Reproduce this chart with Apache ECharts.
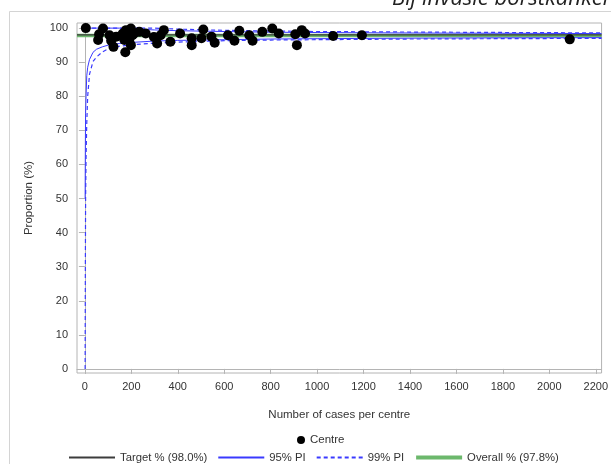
<!DOCTYPE html>
<html>
<head>
<meta charset="utf-8">
<script src="https://cdn.jsdelivr.net/npm/echarts@6/dist/echarts.min.js"></script>
<style>
  html, body { margin: 0; padding: 0; background: #fff; }
  #chart { width: 611px; height: 464px; }
</style>
</head>
<body>
<div id="chart"></div>
<script>
// Centres: number of cases and proportion (%)
const centreCases = [4, 57, 61, 78, 106, 113, 123, 135, 163, 170, 174, 177, 177, 184, 191, 198, 198, 205, 212, 234,
  262, 297, 311, 326, 340, 368, 410, 460, 460, 502, 510, 545, 559, 616, 644, 665, 708, 722, 764, 807,
  835, 906, 913, 934, 948, 1069, 1193, 2088];
const centrePct = [100, 96.5, 98.2, 99.9, 97.9, 96.3, 94.5, 97.5, 98.4, 96.5, 92.9, 99.4, 97.4, 98.4, 96.5, 99.9, 95.0, 97.9, 98.4, 98.9,
  98.4, 97.4, 95.5, 97.9, 99.4, 96.0, 98.4, 97.0, 95.0, 97.0, 99.6, 97.5, 95.7, 97.9, 96.3, 99.2, 97.9, 96.3, 98.9, 99.9,
  98.4, 98.2, 95.0, 99.4, 98.4, 97.7, 97.9, 96.7];

// Prediction-interval funnel limits
const limitCases = [1, 2, 3, 5, 8, 12, 20, 35, 50, 75, 100, 150, 200, 300, 400, 600, 800, 1000, 1400, 1800, 2225];
const lower95 = [50, 66, 75, 80, 86, 88.5, 90.8, 92.9, 93.8, 94.5, 95.0, 95.5, 95.8, 96.2, 96.4, 96.6, 96.8, 96.9, 97.05, 97.15, 97.2];
const upper95 = [100, 100, 100, 100, 100, 100, 100, 100, 100, 100, 100, 100, 99.8, 99.46, 99.24, 99.0, 98.8, 98.7, 98.57, 98.48, 98.4];
const lower99 = [0, 30, 50, 62, 72, 80, 86.5, 90.2, 91.5, 93.0, 93.9, 94.7, 95.1, 95.6, 95.9, 96.3, 96.5, 96.6, 96.8, 96.9, 97.0];
const upper99 = [100, 100, 100, 100, 100, 100, 100, 100, 100, 100, 100, 100, 100, 100, 99.7, 99.35, 99.15, 99.0, 98.85, 98.72, 98.6];

// Reference levels
const targetPct = 98.0;
const overallPct = 97.8;

// Axis ranges and tick labels
const xRange = [-34, 2225];
const yRange = [-1.2, 101.5];
const xTicks = [0, 200, 400, 600, 800, 1000, 1200, 1400, 1600, 1800, 2000, 2200];
const yTicks = [0, 10, 20, 30, 40, 50, 60, 70, 80, 90, 100];

const zip = (xs, ys) => xs.map((x, i) => [x, ys[i]]);
const flat = (v) => [[xRange[0], v], [xRange[1], v]];

const blue = '#3a3aff';
const green = '#6cb86c';
const dark = '#3c3c3c';
const axisGrey = '#b4b4b4';
const textCol = '#333';
const font = 'Liberation Sans, Arial, sans-serif';

const chart = echarts.init(document.getElementById('chart'), null, { renderer: 'canvas' });

chart.setOption({
  animation: false,
  backgroundColor: '#fff',
  graphic: [
    { type: 'rect', silent: true, z: -10,
      shape: { x: 9.5, y: 11.5, width: 700, height: 500 },
      style: { fill: 'none', stroke: '#d4d4d4', lineWidth: 1 } },
    { type: 'text', left: 392, top: -12,
      style: { text: 'Bij invasie borstkanker', fill: '#222',
        font: 'italic 22px "Open Sans", "Liberation Sans", sans-serif' } }
  ],
  grid: {
    left: 77, top: 23, right: 2, bottom: 91,
    show: true, borderColor: axisGrey, borderWidth: 1
  },
  legend: [
    {
      data: [{ name: 'Centre', icon: 'circle' }],
      left: 292, top: 429,
      itemWidth: 8, itemHeight: 8, itemGap: 10,
      textStyle: { fontFamily: font, fontSize: 11.5, color: textCol }
    },
    {
      data: [
        { name: 'Target % (98.0%)' },
        { name: '95% PI' },
        { name: '99% PI' },
        { name: 'Overall % (97.8%)', lineStyle: { width: 4 } }
      ],
      left: 63, top: 447,
      itemWidth: 46, itemHeight: 10, itemGap: 10,
      itemStyle: { opacity: 0 },
      textStyle: { fontFamily: font, fontSize: 11.3, color: textCol }
    }
  ],
  xAxis: {
    type: 'value', min: xRange[0], max: xRange[1],
    name: 'Number of cases per centre', nameLocation: 'middle', nameGap: 36,
    nameTextStyle: { fontFamily: font, fontSize: 11.5, color: textCol },
    axisLine: { show: true, lineStyle: { color: axisGrey } },
    axisTick: { show: true, length: 5, customValues: xTicks, lineStyle: { color: axisGrey } },
    axisLabel: { customValues: xTicks, margin: 8, fontFamily: font, fontSize: 11, color: textCol,
      formatter: (v) => String(v) },
    splitLine: { show: false }
  },
  yAxis: {
    type: 'value', min: yRange[0], max: yRange[1],
    name: 'Proportion (%)', nameLocation: 'middle', nameGap: 42, nameRotate: 90,
    nameTextStyle: { fontFamily: font, fontSize: 11.5, color: textCol },
    axisLine: { show: true, lineStyle: { color: axisGrey } },
    axisTick: { show: true, length: 6, customValues: yTicks, lineStyle: { color: axisGrey } },
    axisLabel: { customValues: yTicks, margin: 9, fontFamily: font, fontSize: 11, color: textCol,
      formatter: (v) => String(v) },
    splitLine: { show: false }
  },
  series: [
    { name: 'Overall % (97.8%)', type: 'line', data: flat(overallPct), symbol: 'none',
      lineStyle: { color: green, width: 3.5 }, itemStyle: { color: green }, z: 1 },
    { name: 'Target % (98.0%)', type: 'line', data: flat(targetPct), symbol: 'none',
      lineStyle: { color: dark, width: 1.3 }, itemStyle: { color: dark }, z: 2 },
    { name: '95% PI', type: 'line', data: zip(limitCases, lower95), symbol: 'none',
      lineStyle: { color: blue, width: 1 }, itemStyle: { color: blue }, z: 3 },
    { name: '95% PI', type: 'line', data: zip(limitCases, upper95), symbol: 'none',
      lineStyle: { color: blue, width: 1 }, itemStyle: { color: blue }, z: 3 },
    { name: '99% PI', type: 'line', data: zip(limitCases, lower99), symbol: 'none',
      lineStyle: { color: blue, width: 1.2, type: [4, 3] }, itemStyle: { color: blue }, z: 3 },
    { name: '99% PI', type: 'line', data: zip(limitCases, upper99), symbol: 'none',
      lineStyle: { color: blue, width: 1.2, type: [4, 3] }, itemStyle: { color: blue }, z: 3 },
    { name: 'Centre', type: 'scatter', data: zip(centreCases, centrePct),
      symbol: 'circle', symbolSize: 10, clip: false,
      itemStyle: { color: '#000', opacity: 1 }, z: 5 }
  ]
});
</script>
</body>
</html>
